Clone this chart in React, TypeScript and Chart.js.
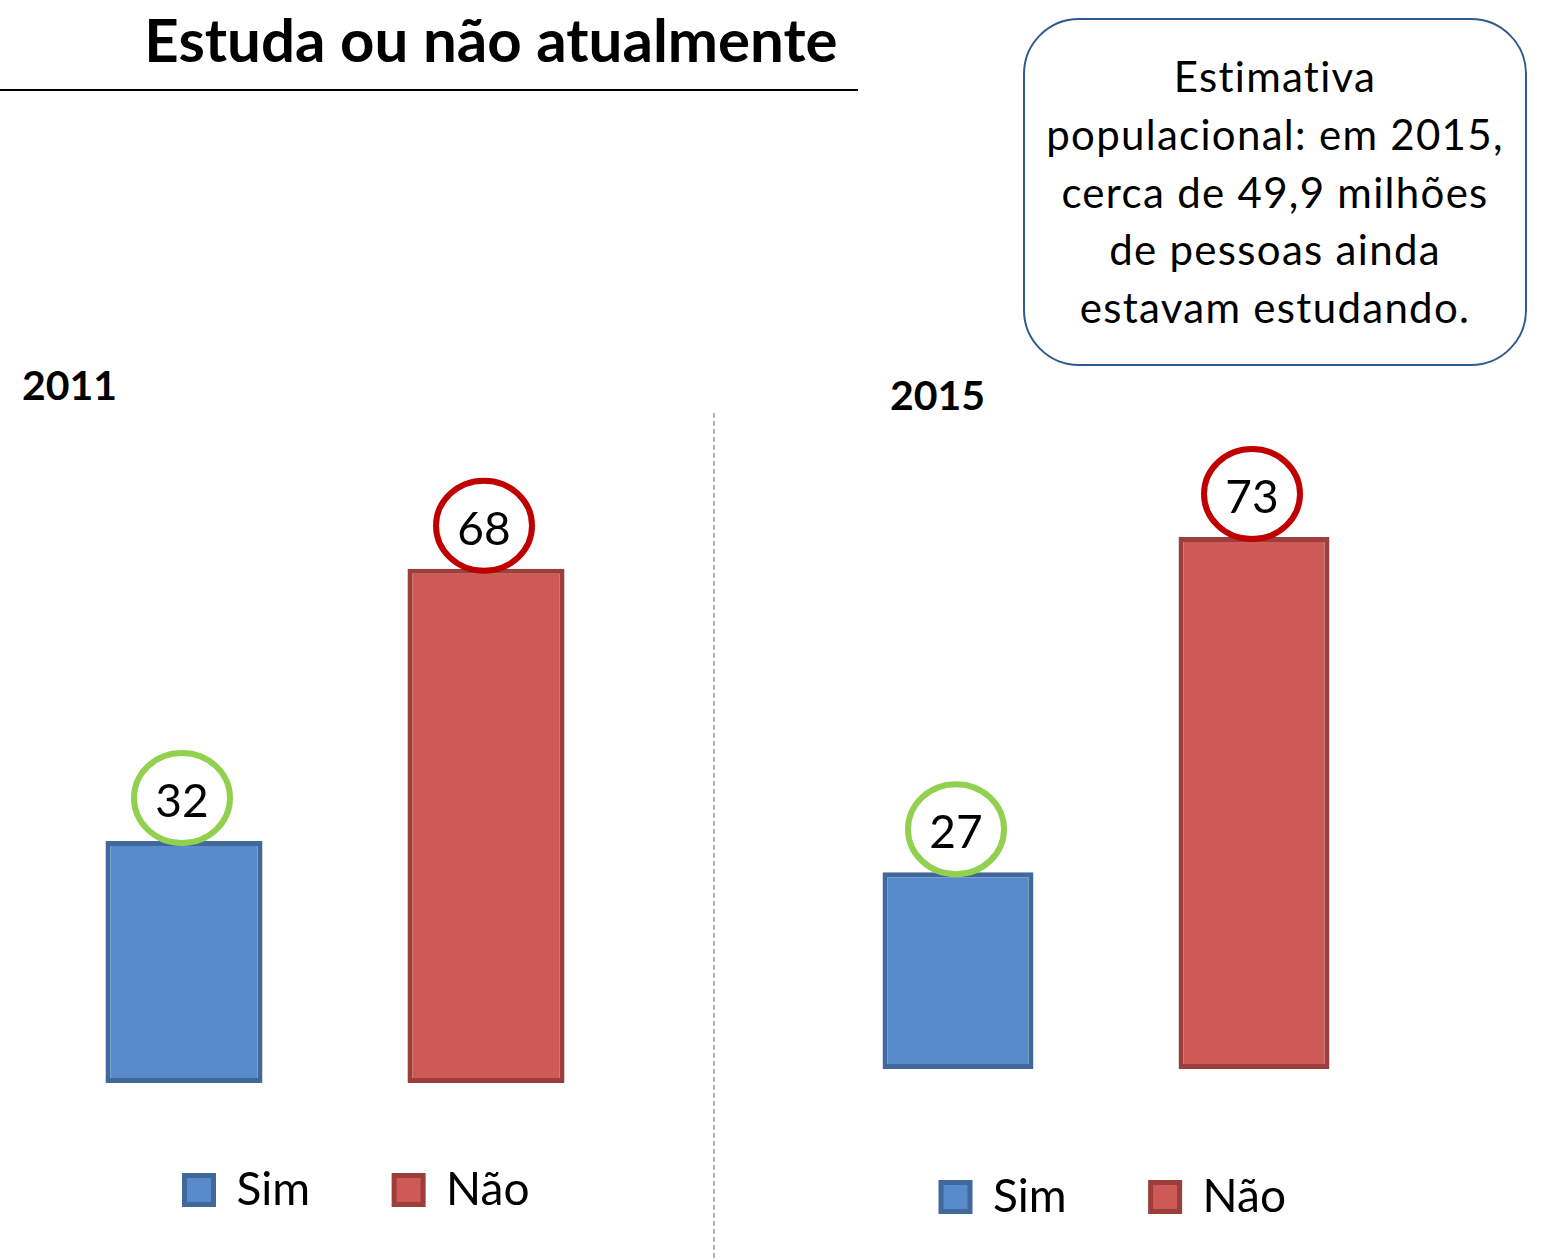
import React, { useEffect, useRef } from "react";
import { Chart, registerables } from "chart.js";

Chart.register(...registerables);

// ---- data ----
const seriesLabels = ["Sim", "Não"];
const yearLabels = ["2011", "2015"];
const sim2011 = [32];
const nao2011 = [68];
const sim2015 = [27];
const nao2015 = [73];
const titleText = "Estuda ou não atualmente";
const noteLines = [
  "Estimativa",
  "populacional: em 2015,",
  "cerca de 49,9 milhões",
  "de pessoas ainda",
  "estavam estudando.",
];

const FONT = "Lato, 'Open Sans', sans-serif";
const BLUE = "#588BCB";
const BLUE_BORDER = "#41689A";
const RED = "#CE5A57";
const RED_BORDER = "#9B3E3C";
const GREEN_RING = "#92D050";
const RED_RING = "#C00000";

const ringPlugin = {
  id: "ringLabels",
  afterDatasetsDraw(chart: any) {
    const ctx = chart.ctx;
    ctx.save();
    chart.data.datasets.forEach((ds: any, i: number) => {
      const meta = chart.getDatasetMeta(i);
      meta.data.forEach((bar: any, j: number) => {
        const v = ds.data[j];
        const cx = bar.x - 2;
        const cy = bar.y - 43;
        ctx.beginPath();
        ctx.ellipse(cx, cy, 48, 45, 0, 0, Math.PI * 2);
        ctx.lineWidth = 6;
        ctx.strokeStyle = ds.ringColor;
        ctx.stroke();
        ctx.fillStyle = "#000";
        ctx.font = `46px ${FONT}`;
        ctx.textAlign = "center";
        ctx.textBaseline = "alphabetic";
        ctx.fillText(String(v), cx, cy + 19);
      });
    });
    ctx.restore();
  },
};

type PanelProps = {
  year: string;
  sim: number[];
  nao: number[];
  left: number;
  top: number;
  width: number;
  height: number;
  padTop: number;
  padBottom: number;
  padRight: number;
  xAxisH: number;
  yAxisW: number;
  catPct: number;
  barPct: number;
};

function Panel(p: PanelProps) {
  const ref = useRef<HTMLCanvasElement | null>(null);
  useEffect(() => {
    if (!ref.current) return;
    const chart = new Chart(ref.current, {
      type: "bar",
      data: {
        labels: [p.year],
        datasets: [
          {
            label: seriesLabels[0],
            data: p.sim,
            backgroundColor: BLUE,
            borderColor: BLUE_BORDER,
            borderWidth: 5,
            borderSkipped: false,
            categoryPercentage: p.catPct,
            barPercentage: p.barPct,
            ringColor: GREEN_RING,
          } as any,
          {
            label: seriesLabels[1],
            data: p.nao,
            backgroundColor: RED,
            borderColor: RED_BORDER,
            borderWidth: 5,
            borderSkipped: false,
            categoryPercentage: p.catPct,
            barPercentage: p.barPct,
            ringColor: RED_RING,
          } as any,
        ],
      },
      options: {
        animation: false,
        responsive: false,
        maintainAspectRatio: false,
        devicePixelRatio: 1,
        layout: {
          padding: { top: p.padTop, bottom: p.padBottom, left: 0, right: p.padRight },
        },
        plugins: {
          legend: {
            position: "bottom",
            labels: {
              boxWidth: 29,
              boxHeight: 29,
              padding: 84,
              color: "#000",
              font: { family: FONT, size: 46 },
              generateLabels: (chart: any) => {
                const items = Chart.defaults.plugins.legend.labels.generateLabels(chart);
                return items.map((it: any) => ({ ...it, lineWidth: 5 }));
              },
            },
          },
          tooltip: { enabled: false },
          title: { display: false },
        },
        scales: {
          x: {
            display: true,
            grid: { display: false, drawTicks: false },
            border: { display: false },
            ticks: { display: false },
            afterFit: (s: any) => {
              s.height = p.xAxisH;
            },
          },
          y: {
            position: "right",
            display: true,
            min: 0,
            max: 80,
            grid: { display: false, drawTicks: false },
            border: { display: false },
            ticks: { display: false },
            afterFit: (s: any) => {
              s.width = p.yAxisW;
            },
          },
        },
      } as any,
      plugins: [ringPlugin],
    });
    return () => chart.destroy();
  }, []);
  return (
    <canvas
      ref={ref}
      width={p.width}
      height={p.height}
      style={{
        position: "absolute",
        left: p.left,
        top: p.top,
        width: p.width,
        height: p.height,
      }}
    />
  );
}

export default function App() {
  return (
    <div
      style={{
        position: "absolute",
        left: 0,
        top: 0,
        width: 1551,
        height: 1260,
        background: "#fff",
        overflow: "hidden",
        fontFamily: FONT,
        color: "#000",
      }}
    >
      <div
        style={{
          position: "absolute",
          left: 0,
          top: 9,
          width: 982,
          textAlign: "center",
          fontSize: 60,
          lineHeight: "60px",
          fontWeight: 700,
          whiteSpace: "nowrap",
        }}
      >
        {titleText}
      </div>
      <div
        style={{
          position: "absolute",
          left: 0,
          top: 89,
          width: 858,
          height: 0,
          borderTop: "2px solid #000",
        }}
      />
      <div
        style={{
          position: "absolute",
          left: 1023,
          top: 18,
          width: 500,
          height: 344,
          border: "2px solid #2F5B8E",
          borderRadius: 56,
        }}
      />
      <div
        style={{
          position: "absolute",
          left: 1023,
          top: 48,
          width: 504,
          textAlign: "center",
          fontSize: 42,
          letterSpacing: "1.3px",
          lineHeight: "57.75px",
          whiteSpace: "nowrap",
        }}
      >
        {noteLines.map((l, i) => (
          <div key={i}>{l}</div>
        ))}
      </div>
      <div
        style={{
          position: "absolute",
          left: 22,
          top: 364,
          fontSize: 41,
          lineHeight: "41px",
          fontWeight: 700,
        }}
      >
        {yearLabels[0]}
      </div>
      <div
        style={{
          position: "absolute",
          left: 890,
          top: 374,
          fontSize: 41,
          lineHeight: "41px",
          fontWeight: 700,
        }}
      >
        {yearLabels[1]}
      </div>
      <svg
        width={6}
        height={860}
        style={{ position: "absolute", left: 711, top: 410 }}
      >
        <line x1={3} y1={3} x2={3} y2={860} stroke="#b3b3b3" strokeWidth={2} strokeDasharray="5 3" />
      </svg>
      <Panel
        year={yearLabels[0]}
        sim={sim2011}
        nao={nao2011}
        left={0}
        top={400}
        width={714}
        height={860}
        padTop={78}
        padBottom={37}
        padRight={0}
        xAxisH={0}
        yAxisW={44}
        catPct={604 / 670}
        barPct={0.52}
      />
      <Panel
        year={yearLabels[1]}
        sim={sim2015}
        nao={nao2015}
        left={720}
        top={400}
        width={831}
        height={860}
        padTop={86}
        padBottom={30}
        padRight={44}
        xAxisH={21}
        yAxisW={15}
        catPct={592 / 772}
        barPct={0.51}
      />
    </div>
  );
}
